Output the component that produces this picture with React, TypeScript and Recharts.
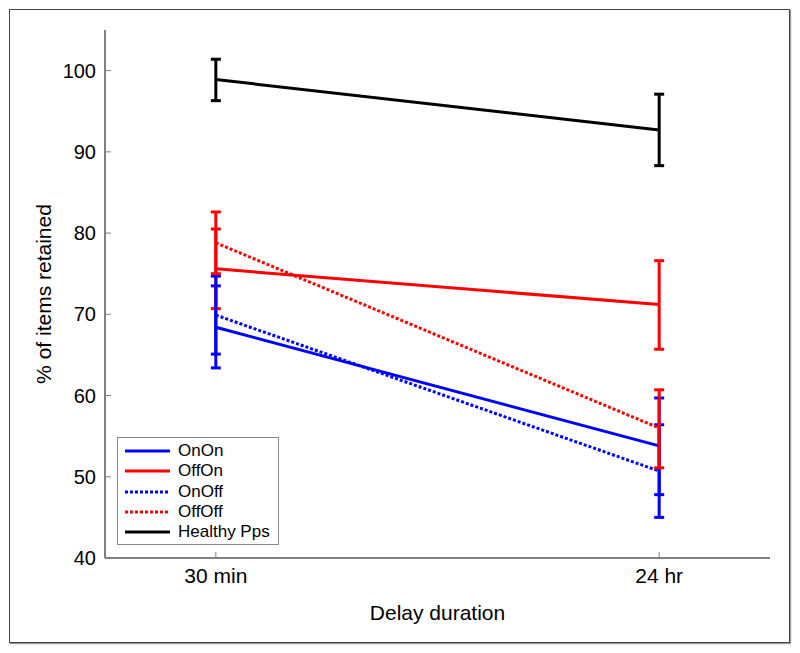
import React from "react";
import { LineChart, Line, XAxis, YAxis, ErrorBar } from "recharts";

// delay conditions (x positions 1 and 2 on a numeric axis)
const delays = [1, 2];
const delayLabels = ["30 min", "24 hr"];

// means (% of items retained)
const onOn = [68.4, 53.8];
const offOn = [75.6, 71.2];
const onOff = [69.9, 50.7];
const offOff = [78.8, 56.0];
const healthy = [98.9, 92.7];

// error bar limits [low, high]
const onOnErr = [[63.4, 73.5], [47.8, 59.7]];
const offOnErr = [[70.7, 80.5], [65.7, 76.6]];
const onOffErr = [[65.1, 74.7], [45.0, 56.4]];
const offOffErr = [[75.0, 82.6], [51.1, 60.7]];
const healthyErr = [[96.3, 101.4], [88.3, 97.1]];

const yTicks = [40, 50, 60, 70, 80, 90, 100];

const series = [
  { key: "OnOn", values: onOn, err: onOnErr, color: "#0000ff", dash: undefined },
  { key: "OffOn", values: offOn, err: offOnErr, color: "#ff0000", dash: undefined },
  { key: "OnOff", values: onOff, err: onOffErr, color: "#0000ff", dash: "3 2" },
  { key: "OffOff", values: offOff, err: offOffErr, color: "#ff0000", dash: "3 2" },
  { key: "Healthy Pps", values: healthy, err: healthyErr, color: "#000000", dash: undefined },
];

const data = delays.map((x, i) => {
  const row: Record<string, any> = { x };
  series.forEach((s) => {
    row[s.key] = s.values[i];
    row[s.key + "_err"] = [s.values[i] - s.err[i][0], s.err[i][1] - s.values[i]];
  });
  return row;
});

const font = "'Liberation Sans', Arial, sans-serif";

function LegendBox() {
  return (
    <div
      style={{
        position: "absolute",
        left: 109,
        top: 429,
        width: 162,
        height: 108,
        border: "1px solid #888",
        background: "#fff",
        fontFamily: font,
        fontSize: 17,
        padding: "3px 0 0 7px",
        boxSizing: "border-box",
        whiteSpace: "nowrap",
      }}
    >
      {series.map((s) => (
        <div key={s.key} style={{ display: "flex", alignItems: "center", height: 20.3 }}>
          <svg width={45} height={6} style={{ marginRight: 8, flexShrink: 0 }}>
            <line x1={0} y1={3} x2={45} y2={3} stroke={s.color} strokeWidth={3} strokeDasharray={s.dash} />
          </svg>
          <span style={{ lineHeight: "18px" }}>{s.key}</span>
        </div>
      ))}
    </div>
  );
}

export default function App() {
  return (
    <div style={{ position: "relative", width: 784, height: 637 }}>
      <LineChart
        width={784}
        height={637}
        data={data}
        margin={{ top: 22, right: 22, left: 0, bottom: 25 }}
        style={{ fontFamily: font }}
      >
        <XAxis
          dataKey="x"
          type="number"
          domain={[0.75, 2.25]}
          ticks={delays}
          tickFormatter={(v) => delayLabels[delays.indexOf(v)]}
          axisLine={{ stroke: "#808080", strokeWidth: 2 }}
          tickLine={{ stroke: "#808080", strokeWidth: 1 }}
          tickSize={-6}
          tickMargin={16}
          tick={{ fill: "#000", fontSize: 21 }}
          height={62}
          label={{ value: "Delay duration", position: "insideBottom", offset: 0, fill: "#000", fontSize: 21 }}
        />
        <YAxis
          type="number"
          domain={[40, 105]}
          allowDataOverflow
          ticks={yTicks}
          axisLine={{ stroke: "#808080", strokeWidth: 2 }}
          tickLine={{ stroke: "#808080", strokeWidth: 1 }}
          tickSize={-6}
          tickMargin={15}
          tick={{ fill: "#000", fontSize: 20 }}
          width={97}
          label={{
            value: "% of items retained",
            angle: -90,
            position: "insideLeft",
            offset: 36,
            fill: "#000",
            fontSize: 21,
            style: { textAnchor: "middle" },
          }}
        />
        {series.map((s) => (
          <Line
            key={s.key}
            dataKey={s.key}
            type="linear"
            stroke={s.color}
            strokeWidth={3}
            strokeDasharray={s.dash}
            dot={false}
            activeDot={false}
            isAnimationActive={false}
          >
            <ErrorBar dataKey={s.key + "_err"} width={5} stroke={s.color} strokeWidth={3} direction="y" isAnimationActive={false} />
          </Line>
        ))}
      </LineChart>
      <LegendBox />
      <div
        style={{
          position: "absolute",
          left: 1,
          top: 1,
          width: 779,
          height: 632,
          border: "1.5px solid #444",
          boxShadow: "1px 1px 1px #999",
          pointerEvents: "none",
        }}
      />
    </div>
  );
}
